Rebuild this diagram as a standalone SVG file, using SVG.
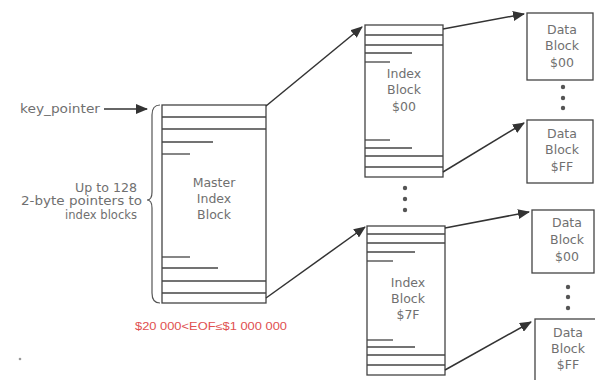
<svg xmlns="http://www.w3.org/2000/svg" width="595" height="380" viewBox="0 0 595 380">
<defs>
<marker id="ah" markerUnits="userSpaceOnUse" markerWidth="12" markerHeight="10" refX="11" refY="5" orient="auto">
<path d="M0,0 L12,5 L0,10 Z" fill="#333"/>
</marker>
</defs>
<style>
.box{fill:#fff;stroke:#444;stroke-width:1.3}
.ln{stroke:#444;stroke-width:1.3}
.t{font-family:"DejaVu Sans","Liberation Sans",sans-serif;font-size:12.5px;fill:#707070;text-anchor:middle}
.s{font-family:"DejaVu Sans","Liberation Sans",sans-serif;font-size:11.5px;fill:#707070}
.dot{fill:#555}
.c{stroke:#333;stroke-width:1.5;fill:none;marker-end:url(#ah)}
</style>
<rect width="595" height="380" fill="#fff"/>

<g id="master">
<rect class="box" x="162" y="105" width="104" height="198"/>
<line class="ln" x1="162" y1="117" x2="266" y2="117"/>
<line class="ln" x1="162" y1="129" x2="266" y2="129"/>
<line class="ln" x1="162" y1="142" x2="213" y2="142"/>
<line class="ln" x1="162" y1="154" x2="190" y2="154"/>
<line class="ln" x1="162" y1="257" x2="190" y2="257"/>
<line class="ln" x1="162" y1="268" x2="218" y2="268"/>
<line class="ln" x1="162" y1="281" x2="266" y2="281"/>
<line class="ln" x1="162" y1="293" x2="266" y2="293"/>
<text class="t" x="214" y="187">Master</text>
<text class="t" x="214" y="203">Index</text>
<text class="t" x="214" y="219">Block</text>
</g>

<g id="key_pointer">
<text class="s" x="20" y="113" textLength="80" lengthAdjust="spacingAndGlyphs">key_pointer</text>
</g>

<g id="brace">
<path d="M160,105 Q152,105 152,115 L152,192 Q152,200 147,200 Q152,200 152,208 L152,293 Q152,303 160,303" fill="none" stroke="#555" stroke-width="1.2"/>
<text class="s" x="137" y="192" text-anchor="end" textLength="62" lengthAdjust="spacingAndGlyphs">Up to 128</text>
<text class="s" x="142" y="205" text-anchor="end" textLength="121" lengthAdjust="spacingAndGlyphs">2-byte pointers to</text>
<text class="s" x="137" y="219" text-anchor="end" textLength="72" lengthAdjust="spacingAndGlyphs">index blocks</text>
</g>

<g id="eof">
<text x="135" y="330" font-family="'Liberation Sans',Arial,sans-serif" font-size="10" fill="#e05050" textLength="152" lengthAdjust="spacingAndGlyphs">$20 000&lt;EOF≤$1 000 000</text>
</g>

<g id="index00">
<rect class="box" x="365" y="25" width="78" height="152"/>
<line class="ln" x1="365" y1="35" x2="443" y2="35"/>
<line class="ln" x1="365" y1="45" x2="443" y2="45"/>
<line class="ln" x1="365" y1="53" x2="412" y2="53"/>
<line class="ln" x1="365" y1="62" x2="390" y2="62"/>
<line class="ln" x1="365" y1="140" x2="390" y2="140"/>
<line class="ln" x1="365" y1="148" x2="412" y2="148"/>
<line class="ln" x1="365" y1="156" x2="443" y2="156"/>
<line class="ln" x1="365" y1="167" x2="443" y2="167"/>
<text class="t" x="404" y="78">Index</text>
<text class="t" x="404" y="94">Block</text>
<text class="t" x="404" y="111">$00</text>
</g>

<g id="index-dots">
<circle class="dot" cx="405" cy="188" r="2.2"/>
<circle class="dot" cx="405" cy="199" r="2.2"/>
<circle class="dot" cx="405" cy="210" r="2.2"/>
</g>

<g id="index7F">
<rect class="box" x="367" y="226" width="78" height="149"/>
<line class="ln" x1="367" y1="234" x2="445" y2="234"/>
<line class="ln" x1="367" y1="243" x2="445" y2="243"/>
<line class="ln" x1="367" y1="252" x2="415" y2="252"/>
<line class="ln" x1="367" y1="261" x2="393" y2="261"/>
<line class="ln" x1="367" y1="340" x2="393" y2="340"/>
<line class="ln" x1="367" y1="347" x2="415" y2="347"/>
<line class="ln" x1="367" y1="355" x2="445" y2="355"/>
<line class="ln" x1="367" y1="365" x2="445" y2="365"/>
<text class="t" x="408" y="287">Index</text>
<text class="t" x="408" y="303">Block</text>
<text class="t" x="408" y="319">$7F</text>
</g>

<g id="data1">
<rect class="box" x="527" y="13" width="66" height="67"/>
<text class="t" x="562" y="34">Data</text>
<text class="t" x="562" y="50">Block</text>
<text class="t" x="562" y="67">$00</text>
</g>
<g id="data-dots1">
<circle class="dot" cx="563" cy="87" r="2.2"/>
<circle class="dot" cx="563" cy="98" r="2.2"/>
<circle class="dot" cx="563" cy="108" r="2.2"/>
</g>
<g id="data2">
<rect class="box" x="527" y="120" width="66" height="63"/>
<text class="t" x="562" y="138">Data</text>
<text class="t" x="562" y="154">Block</text>
<text class="t" x="562" y="171">$FF</text>
</g>
<g id="data3">
<rect class="box" x="532" y="210" width="62" height="63"/>
<text class="t" x="567" y="227">Data</text>
<text class="t" x="567" y="244">Block</text>
<text class="t" x="567" y="261">$00</text>
</g>
<g id="data-dots2">
<circle class="dot" cx="568" cy="287" r="2.2"/>
<circle class="dot" cx="568" cy="297" r="2.2"/>
<circle class="dot" cx="568" cy="308" r="2.2"/>
</g>
<g id="data4">
<rect class="box" x="535" y="319" width="62" height="70"/>
<text class="t" x="568" y="337">Data</text>
<text class="t" x="568" y="353">Block</text>
<text class="t" x="568" y="369">$FF</text>
</g>

<g id="connectors">
<line class="c" x1="104" y1="109" x2="147" y2="109"/>
<line class="c" x1="266" y1="106" x2="362" y2="27"/>
<line class="c" x1="266" y1="298" x2="365" y2="227"/>
<line class="c" x1="443" y1="29" x2="524" y2="14"/>
<line class="c" x1="443" y1="172" x2="524" y2="123"/>
<line class="c" x1="445" y1="228" x2="529" y2="212"/>
<line class="c" x1="445" y1="370" x2="531" y2="322"/>
</g>

<circle cx="20" cy="359" r="1.3" fill="#999"/>
</svg>
